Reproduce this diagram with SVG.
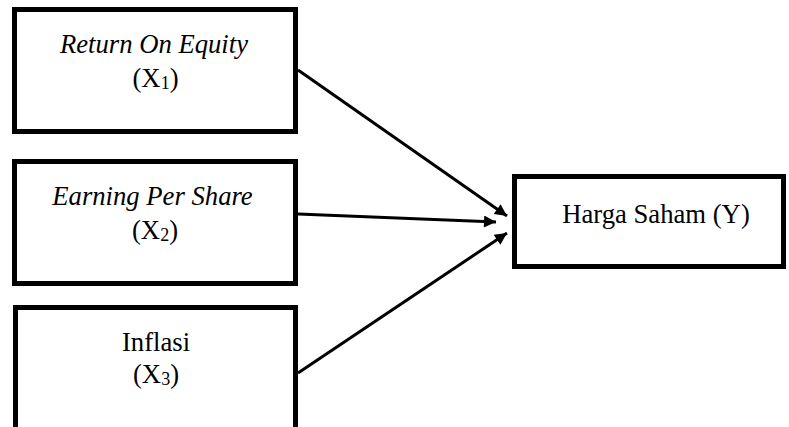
<svg xmlns="http://www.w3.org/2000/svg" width="789" height="427" viewBox="0 0 789 427">
<style>
.box{fill:#fff;stroke:#000;stroke-width:5}
.t{font-family:'Liberation Serif','Times New Roman',serif;font-size:26.67px;fill:#000;text-anchor:middle}
.i{font-style:italic}
.sub{font-size:18px}
.c{stroke:#000;stroke-width:3;fill:none}
</style>
<defs>
<marker id="ah" viewBox="0 0 10 10" refX="10" refY="5" markerWidth="4.5" markerHeight="4" orient="auto" markerUnits="strokeWidth">
<path d="M0,0 L10,5 L0,10 Z" fill="#000"/>
</marker>
</defs>
<rect width="789" height="427" fill="#fff"/>
<g id="x1">
<rect class="box" x="14.5" y="9.5" width="281" height="122"/>
<text class="t i" x="154" y="53">Return On Equity</text>
<text class="t" x="155.5" y="87">(X<tspan class="sub" dy="2">1</tspan><tspan dy="-2">)</tspan></text>
</g>
<g id="x2">
<rect class="box" x="14.5" y="161.5" width="281" height="122"/>
<text class="t i" x="152.5" y="205">Earning Per Share</text>
<text class="t" x="155" y="239">(X<tspan class="sub" dy="2">2</tspan><tspan dy="-2">)</tspan></text>
</g>
<g id="x3">
<rect class="box" x="15.5" y="307.5" width="280" height="125"/>
<text class="t" x="156" y="351">Inflasi</text>
<text class="t" x="156" y="383">(X<tspan class="sub" dy="2">3</tspan><tspan dy="-2">)</tspan></text>
</g>
<g id="y">
<rect class="box" x="514.5" y="176.5" width="269" height="90"/>
<text class="t" x="656" y="223">Harga Saham (Y)</text>
</g>
<g id="connectors">
<line class="c" x1="298" y1="70" x2="507" y2="216" marker-end="url(#ah)"/>
<line class="c" x1="298" y1="214" x2="496" y2="222" marker-end="url(#ah)"/>
<line class="c" x1="298" y1="373" x2="507" y2="233" marker-end="url(#ah)"/>
</g>
</svg>
